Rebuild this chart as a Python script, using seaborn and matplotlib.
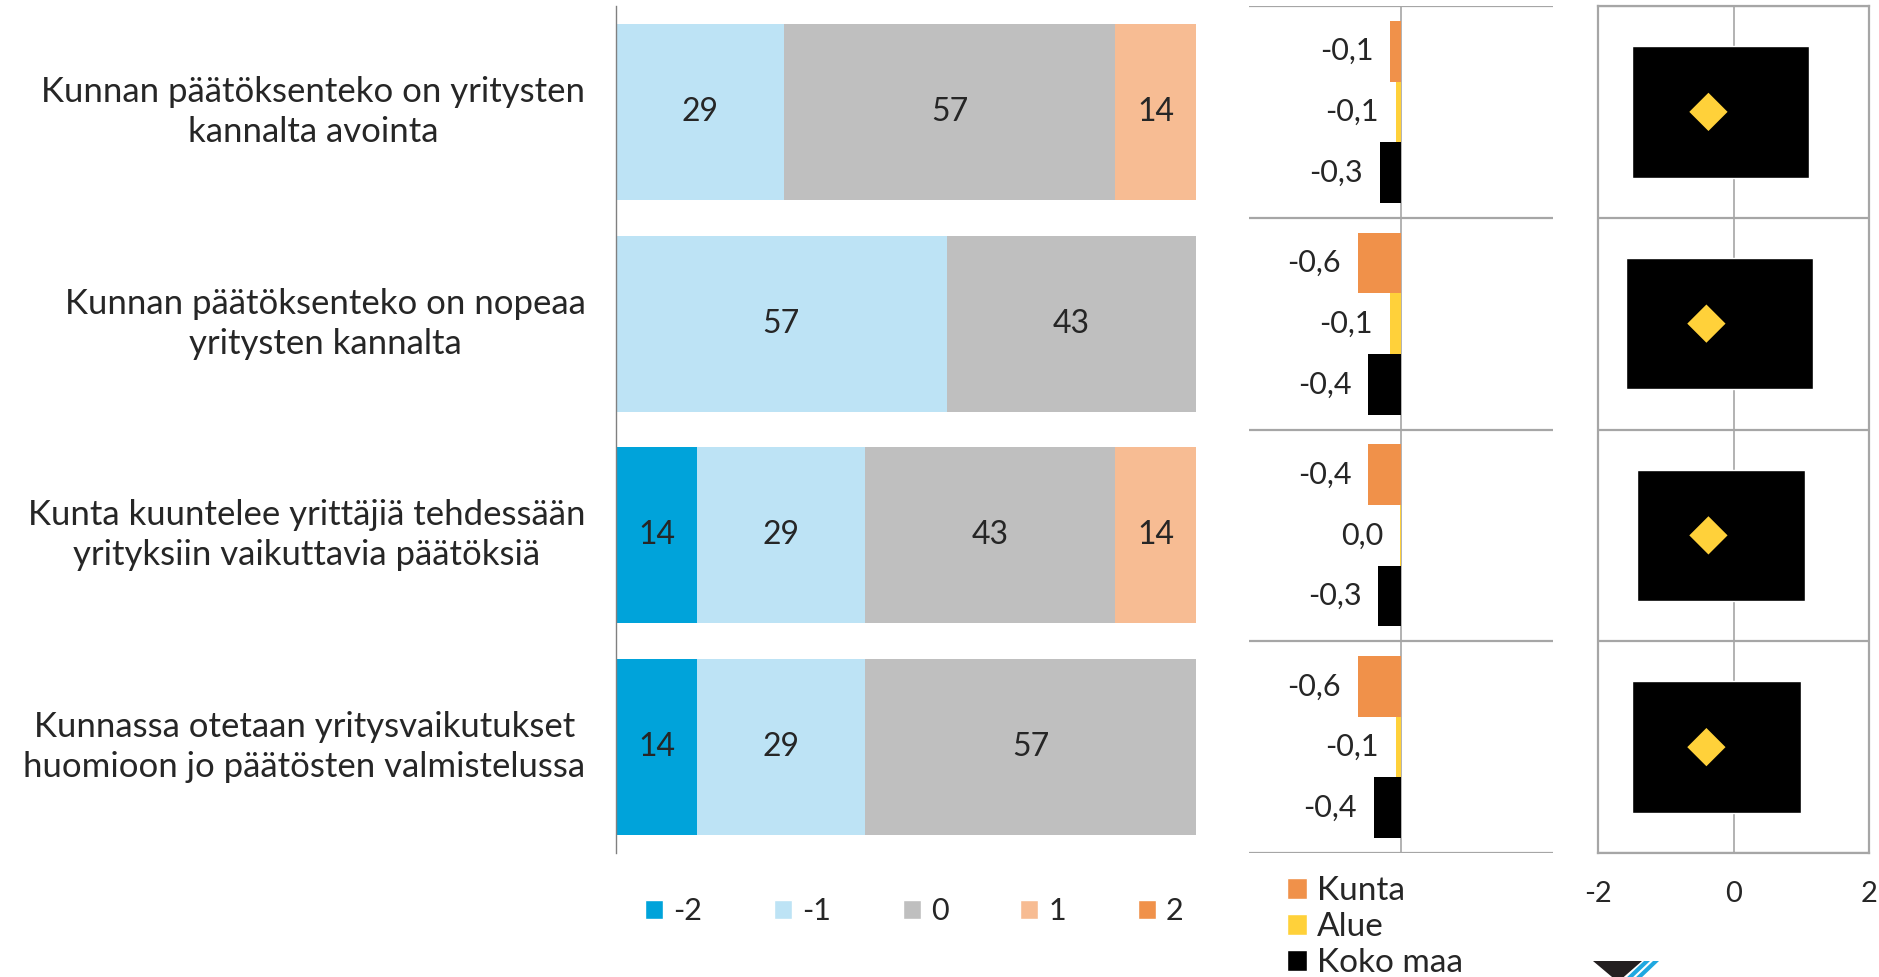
import numpy as np
import pandas as pd
import seaborn as sns
import matplotlib.pyplot as plt
from matplotlib.patches import Patch, Polygon

# statements (rows)
statements = [
    "Kunnan päätöksenteko on yritysten\nkannalta avointa",
    "Kunnan päätöksenteko on nopeaa\nyritysten kannalta",
    "Kunta kuuntelee yrittäjiä tehdessään\nyrityksiin vaikuttavia päätöksiä",
    "Kunnassa otetaan yritysvaikutukset\nhuomioon jo päätösten valmistelussa",
]

# answer distribution (%) for scale -2 ... 2
scale_labels = ["-2", "-1", "0", "1", "2"]
share_m2 = [0, 0, 14, 14]
share_m1 = [29, 57, 29, 29]
share_0 = [57, 43, 43, 57]
share_p1 = [14, 0, 14, 0]
share_p2 = [0, 0, 0, 0]
scale_colors = ["#00A3DA", "#BDE3F5", "#BFBFBF", "#F7BC93", "#F0914A"]

# averages
groups = ["Kunta", "Alue", "Koko maa"]
mean_kunta = [-0.14, -0.57, -0.43, -0.57]
mean_alue = [-0.07, -0.15, -0.01, -0.07]
mean_koko = [-0.28, -0.43, -0.30, -0.36]
group_colors = ["#F0914A", "#FFD13A", "#000000"]

# range boxes + marker
range_low = [-1.50, -1.59, -1.42, -1.50]
range_high = [1.11, 1.18, 1.05, 0.99]
range_mid = [-0.37, -0.40, -0.37, -0.40]

sns.set_style("white")
plt.rcParams["font.family"] = ["Lato", "DejaVu Sans"]

W, H = 1879, 977
fig = plt.figure(figsize=(W / 100, H / 100), dpi=100)

def fx(px):
    return px / W

def fy(py):
    return 1 - py / H

top, bottom = 6, 853
ax1 = fig.add_axes([fx(616), fy(bottom), fx(1196) - fx(616), fy(top) - fy(bottom)])
ax2 = fig.add_axes([fx(1249), fy(bottom), fx(1553) - fx(1249), fy(top) - fy(bottom)])
ax3 = fig.add_axes([fx(1598), fy(bottom), fx(1869) - fx(1598), fy(top) - fy(bottom)])

grid_col = "#A6A6A6"

# ---- left: stacked 100% bars
shares = [share_m2, share_m1, share_0, share_p1, share_p2]
cum = np.cumsum(np.array(shares), axis=0)
for i in range(len(shares) - 1, -1, -1):
    sns.barplot(x=cum[i], y=statements, color=scale_colors[i], orient="h",
                width=0.83, saturation=1, linewidth=0, ax=ax1)
for i, s in enumerate(shares):
    for j, v in enumerate(s):
        if v > 0:
            ax1.text(cum[i][j] - v / 2, j, f"{v}", ha="center", va="center", fontsize=23)
ax1.set_xlim(0, 100)
ax1.set_ylim(3.5, -0.5)
ax1.set_xlabel("")
ax1.set_ylabel("")
ax1.set_xticks([])
for sp in ["top", "right", "bottom"]:
    ax1.spines[sp].set_visible(False)
ax1.spines["left"].set_color("#808080")
ax1.spines["left"].set_linewidth(1)
ax1.tick_params(axis="y", length=0, pad=22, labelsize=25)
for lab in ax1.get_yticklabels():
    lab.set_multialignment("center")
    lab.set_linespacing(1.3)
    lab.set_verticalalignment("center")

handles = [Patch(facecolor=c) for c in scale_colors]
fig.legend(handles, scale_labels, loc="center left", bbox_to_anchor=(fx(645), fy(911)),
           ncol=5, frameon=False, fontsize=22, handlelength=0.6, handleheight=0.6,
           handletextpad=0.32, columnspacing=2.35, borderpad=0, borderaxespad=0)

# ---- middle: averages
df = pd.DataFrame({
    "statement": statements * 3,
    "group": [g for g in groups for _ in statements],
    "value": mean_kunta + mean_alue + mean_koko,
})
sns.barplot(data=df, x="value", y="statement", hue="group", hue_order=groups,
            palette=group_colors, orient="h", width=0.86, saturation=1, linewidth=0,
            errorbar=None, legend=False, ax=ax2)
for cont, vals in zip(ax2.containers, [mean_kunta, mean_alue, mean_koko]):
    for bar, v in zip(cont, vals):
        yc = bar.get_y() + bar.get_height() / 2
        txt = f"{round(v, 1) + 0.0:.1f}".replace(".", ",")
        ax2.annotate(txt, (v, yc), xytext=(-12, 0), textcoords="offset points",
                     ha="right", va="center", fontsize=22)
ax2.set_xlim(-2, 2)
ax2.set_ylim(3.5, -0.5)
ax2.axvline(0, color=grid_col, lw=1.2, zorder=0)
for yb in np.arange(-0.5, 4, 1):
    ax2.axhline(yb, color=grid_col, lw=1.6, zorder=0)
ax2.set_xticks([])
ax2.set_yticks([])
ax2.set_xlabel("")
ax2.set_ylabel("")
for sp in ax2.spines.values():
    sp.set_visible(False)

ghandles = [Patch(facecolor=c) for c in group_colors]
fig.legend(ghandles, groups, loc="center left", bbox_to_anchor=(fx(1287), fy(927)),
           ncol=1, frameon=False, fontsize=24, handlelength=0.6, handleheight=0.6,
           handletextpad=0.3, labelspacing=0.18, borderpad=0, borderaxespad=0)

# ---- right: range boxes
ypos = np.arange(len(statements))
ax3.axvline(0, color=grid_col, lw=1.2, zorder=0)
ax3.barh(ypos, np.array(range_high) - np.array(range_low), left=range_low,
         height=0.62, color="black", zorder=2)
sns.scatterplot(x=range_mid, y=ypos, marker="D", s=380, color="#FFD13A",
                edgecolor="none", zorder=3, ax=ax3)
for yb in np.arange(-0.5, 4, 1):
    ax3.axhline(yb, color=grid_col, lw=1.6, zorder=1)
ax3.set_xlim(-2, 2)
ax3.set_ylim(3.5, -0.5)
ax3.set_xticks([-2, 0, 2])
ax3.set_xticklabels(["-2", "0", "2"])
ax3.set_yticks([])
ax3.tick_params(axis="x", length=0, pad=20, labelsize=21)
for sp in ax3.spines.values():
    sp.set_color(grid_col)
    sp.set_linewidth(1.6)

# ---- small logo fragment bottom right
def px_poly(pts, color):
    fig.add_artist(Polygon([(fx(x), fy(y)) for x, y in pts], closed=True,
                           facecolor=color, edgecolor="none", transform=fig.transFigure))

px_poly([(1593, 961), (1642, 961), (1618, 982)], "#231F20")
px_poly([(1644, 961), (1650, 961), (1630, 980), (1624, 980)], "#1FA8E0")
px_poly([(1653, 961), (1659, 961), (1639, 980), (1633, 980)], "#1FA8E0")

fig.savefig("out.png", dpi=100)
